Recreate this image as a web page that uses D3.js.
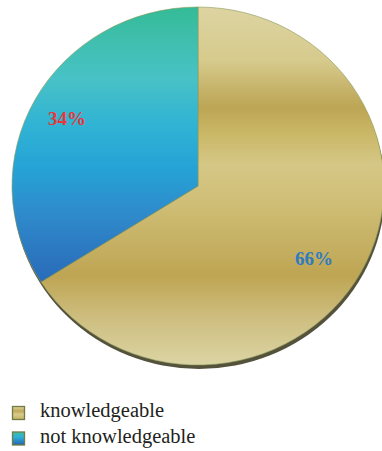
<!DOCTYPE html>
<html><head><meta charset="utf-8">
<script src="https://cdn.jsdelivr.net/npm/d3@7"></script>
<style>html,body{margin:0;padding:0;background:#fff;}svg{display:block;}</style>
</head><body>
<svg id="chart" width="382" height="451"></svg>
<script>
const categories = ["knowledgeable", "not knowledgeable"];
const values = [66, 34];
const labels = ["66%", "34%"];
const labelColors = ["#2e7bc2", "#e8373a"];

const svg = d3.select("#chart");
const cx = 198, cy = 186, rx = 186, ry = 179;
const defs = svg.append("defs");

function vgrad(id, stops) {
  const g = defs.append("linearGradient").attr("id", id)
    .attr("gradientUnits", "userSpaceOnUse")
    .attr("x1", 0).attr("x2", 0).attr("y1", -ry).attr("y2", ry);
  stops.forEach(s => g.append("stop").attr("offset", s[0]).attr("stop-color", s[1]));
}
vgrad("gold", [[0, "#ddd4a2"], [0.15, "#d6ca8c"], [0.28, "#bca555"], [0.35, "#cab766"], [0.44, "#d5c786"], [0.55, "#cfbe76"], [0.75, "#bea553"], [0.88, "#cfc083"], [1, "#dcd4a4"]]);
vgrad("blue", [[0, "#34bb96"], [0.1, "#40bfb0"], [0.2, "#48c2c6"], [0.33, "#30b3d4"], [0.45, "#25a3d6"], [0.58, "#2f8acb"], [0.72, "#2b72bd"], [0.85, "#2461b2"], [1, "#2459ad"]]);
function boxGrad(id, stops) {
  const g = defs.append("linearGradient").attr("id", id).attr("x1", 0).attr("x2", 0).attr("y1", 0).attr("y2", 1);
  stops.forEach(s => g.append("stop").attr("offset", s[0]).attr("stop-color", s[1]));
}
boxGrad("goldBox", [[0, "#ddd3a0"], [0.35, "#c0a858"], [0.6, "#d8cb8c"], [1, "#c6b062"]]);
boxGrad("blueBox", [[0, "#3cbea6"], [0.4, "#2fb0d6"], [1, "#2562b2"]]);

const pie = d3.pie().sort(null).value(d => d)(values);
const arc = d3.arc().innerRadius(0).outerRadius(ry);
const fills = ["url(#gold)", "url(#blue)"];

// shadow
svg.append("ellipse").attr("cx", cx + 1).attr("cy", cy + 4).attr("rx", rx).attr("ry", ry)
  .attr("fill", "#55523c");

const g = svg.append("g").attr("transform", `translate(${cx},${cy}) scale(${rx / ry},1)`);
g.selectAll("path").data(pie).join("path")
  .attr("d", arc)
  .attr("fill", (d, i) => fills[i])
  .attr("stroke", "#8a9a5a").attr("stroke-width", 0.6)
  .attr("vector-effect", "non-scaling-stroke");

// labels
const labelPos = [[314, 265], [67, 125]];
svg.selectAll("text.lbl").data(labels).join("text").attr("class", "lbl")
  .attr("x", (d, i) => labelPos[i][0]).attr("y", (d, i) => labelPos[i][1])
  .attr("text-anchor", "middle")
  .attr("font-family", "Liberation Serif, serif").attr("font-weight", "bold").attr("font-size", 19)
  .attr("fill", (d, i) => labelColors[i]).text(d => d);

// legend
const lg = svg.append("g");
const boxes = ["url(#goldBox)", "url(#blueBox)"];
categories.forEach((c, i) => {
  const y = 406.5 + i * 25.5;
  lg.append("rect").attr("x", 12.5).attr("y", y).attr("width", 12).attr("height", 13)
    .attr("fill", boxes[i]).attr("stroke", "#6f7c44").attr("stroke-width", 1.3);
  lg.append("text").attr("x", 40).attr("y", 417 + i * 26)
    .attr("font-family", "Liberation Serif, serif").attr("font-size", 20.5)
    .attr("fill", "#231f20").text(c);
});
</script>
</body></html>
